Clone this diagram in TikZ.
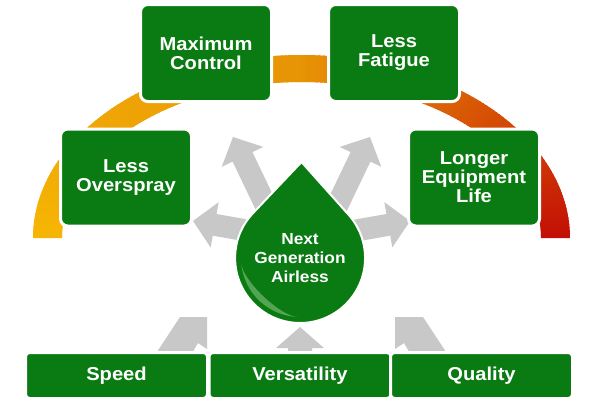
\documentclass[tikz,border=0pt]{standalone}
\usepackage{fontspec}
\newfontfamily\lbl[FakeStretch=1.08]{Liberation Sans}
\definecolor{boxgreen}{RGB}{10,122,18}
\definecolor{arrowgray}{RGB}{200,200,200}
\definecolor{hlgreen}{RGB}{110,180,105}
\newcommand{\blockarrow}[3]{\fill[arrowgray, shift={(#1)}, rotate=#2] (0,0) -- (-22,23) -- (-22,11) -- (-#3,11) -- (-#3,-11) -- (-22,-11) -- (-22,-23) -- cycle;}
\begin{document}
\begin{tikzpicture}[x=0.75pt,y=0.75pt,
  box/.style={rectangle, fill=boxgreen, draw=white, line width=2.25pt, text=white, align=center,
    font=\lbl\bfseries\fontsize{14}{14.25}\selectfont, inner sep=0pt},
  bigbox/.style={box, rounded corners=5.5pt, minimum width=98.25pt, minimum height=72.75pt},
  lowbox/.style={box, rounded corners=3pt, minimum width=136.5pt, minimum height=34.5pt},
  droptext/.style={text=white, align=center, font=\lbl\bfseries\fontsize{12}{14.5}\selectfont, inner sep=0pt}]
\useasboundingbox (0,0) rectangle (600,-400);
\fill[white] (0,0) rectangle (600,-400);
% gradient arc band
\foreach \a in {0,...,179}{
  \pgfmathsetmacro\b{min(\a+1.6,180)}
  \pgfmathsetmacro\t{(\a+0.5)/180}
  \pgfmathtruncatemacro\R{min(195+80*\t,215+32*\t)}
  \pgfmathtruncatemacro\G{min(15+266*\t,114+68*\t)}
  \definecolor{segc}{RGB}{\R,\G,5}
  \fill[segc] ({301.5+268.5*cos(\a)},{-238+183*sin(\a)}) -- ({301.5+268.5*cos(\b)},{-238+183*sin(\b)})
    -- ({301.5+239.5*cos(\b)},{-238+156*sin(\b)}) -- ({301.5+239.5*cos(\a)},{-238+156*sin(\a)}) -- cycle;
}
% gray arrows
\blockarrow{233,-137}{115.6}{90}
\blockarrow{370,-137}{64.4}{90}
\blockarrow{193,-221}{170}{70}
\blockarrow{410,-221}{10}{70}
\fill[arrowgray] (155,-355) -- (180,-317) -- (207,-317) -- (207,-349) -- (198,-343) -- (191,-355) -- cycle;
\fill[arrowgray] (448,-355) -- (423,-317) -- (395,-317) -- (395,-349) -- (404,-343) -- (411,-355) -- cycle;
\fill[arrowgray] (288,-356) -- (288,-348) -- (276,-348) -- (300,-327) -- (324,-348) -- (312,-348) -- (312,-356) -- cycle;
% boxes
\node[bigbox] (maxc) at (206,-53) {Maximum\\Control};
\node[bigbox] (fatig) at (394,-53) {Less\\Fatigue};
\node[bigbox] (over) at (126,-177.5) {Less\\Overspray};
\node[bigbox] (life) at (474,-177.5) {Longer\\Equipment\\Life};
\node[lowbox] (speed) at (116.5,-375.5) {Speed};
\node[lowbox] (vers) at (300,-375.5) {Versatility};
\node[lowbox] (qual) at (481.5,-375.5) {Quality};
% drop
\fill[boxgreen, draw=white, line width=1.5pt] (301.5,-162) -- (347.9,-214) arc[start angle=42.6, end angle=-222.6, radius=65] -- cycle;
\begin{scope}[shift={(300,-258)}]
\fill[hlgreen, opacity=0.75] (185:59) arc[start angle=185, end angle=268, radius=59]
  .. controls (252:62) and (201:62) .. (185:59) -- cycle;
\end{scope}
\node[droptext] (drop) at (300,-258) {Next\\Generation\\Airless};
\end{tikzpicture}
\end{document}
